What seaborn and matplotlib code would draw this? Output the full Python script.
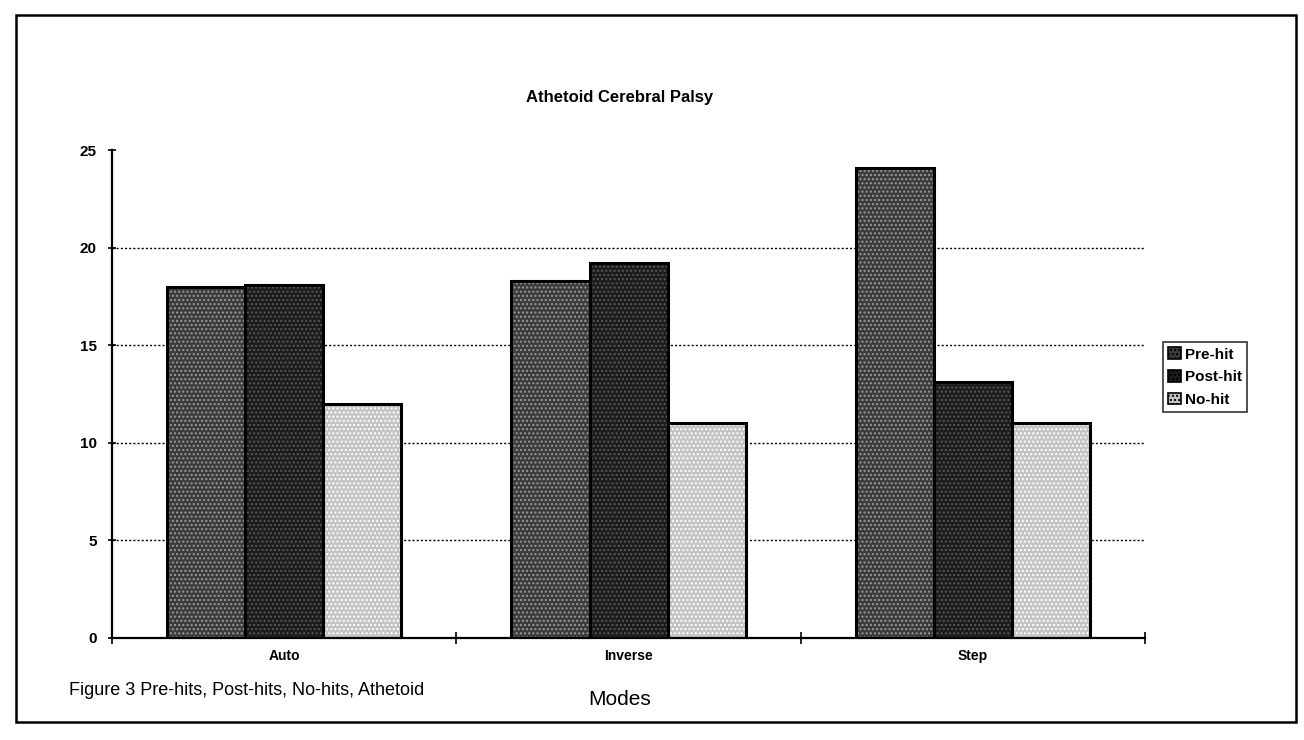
import matplotlib
matplotlib.use("Agg")
import matplotlib.pyplot as plt
from matplotlib.patches import Rectangle, Patch
import seaborn as sns
import pandas as pd

modes = ["Auto", "Inverse", "Step"]
series = ["Pre-hit", "Post-hit", "No-hit"]
pre_hit = [18.0, 18.3, 24.1]
post_hit = [18.1, 19.2, 13.1]
no_hit = [12.0, 11.0, 11.0]
y_ticks = [0, 5, 10, 15, 20, 25]

sns.set_style("white")
plt.rcParams["font.family"] = ["Liberation Sans", "DejaVu Sans"]
plt.rcParams["text.color"] = "black"
plt.rcParams["xtick.color"] = "black"
plt.rcParams["ytick.color"] = "black"

rows = []
for name, vals in zip(series, [pre_hit, post_hit, no_hit]):
    for m, v in zip(modes, vals):
        rows.append({"Mode": m, "Series": name, "Value": v})
df = pd.DataFrame(rows)

face = {"Pre-hit": "#3c3c3c", "Post-hit": "#1c1c1c", "No-hit": "#c4c4c4"}
hatchc = {"Pre-hit": "#9a9a9a", "Post-hit": "#585858", "No-hit": "#ffffff"}

fig = plt.figure(figsize=(13.04, 7.4), dpi=100)
ax = fig.add_axes([0.086, 0.138, 0.792, 0.659])

sns.barplot(data=df, x="Mode", y="Value", hue="Series", order=modes,
            hue_order=series, palette=face, width=0.68, ax=ax,
            saturation=1, legend=False, errorbar=None)

for container, name in zip(ax.containers, series):
    for p in container:
        p.set_hatch("....")
        p.set_edgecolor(hatchc[name])
        p.set_linewidth(0)
        ax.add_patch(Rectangle((p.get_x(), p.get_y()), p.get_width(), p.get_height(),
                               fill=False, edgecolor="black", linewidth=2.2, zorder=3))

ax.set_ylim(0, 25)
ax.set_xlim(-0.5, 2.5)
ax.set_yticks(y_ticks)
ax.set_yticklabels([str(t) for t in y_ticks], fontsize=11, fontweight="bold")
ax.set_xticks(range(len(modes)))
ax.set_xticklabels(modes, fontsize=10, fontweight="bold")
ax.tick_params(axis="x", which="major", length=0, pad=8)
ax.set_xticks([-0.5, 0.5, 1.5, 2.5], minor=True)
ax.tick_params(axis="x", which="minor", bottom=True, length=8, direction="inout",
               width=1.2, color="black")
ax.tick_params(axis="y", length=6, direction="inout", width=1.2, color="black", left=True, pad=8)

for t in [5, 10, 15, 20]:
    ax.axhline(t, color="black", linestyle=(0, (1.5, 1.5)), linewidth=1.0, zorder=0.5)

for s in ["top", "right"]:
    ax.spines[s].set_visible(False)
for s in ["left", "bottom"]:
    ax.spines[s].set_color("black")
    ax.spines[s].set_linewidth(1.6)

ax.set_xlabel("")
ax.set_ylabel("")

fig.text(0.475, 0.868, "Athetoid Cerebral Palsy", ha="center", va="center",
         fontsize=12, fontweight="bold")
fig.text(0.053, 0.067, "Figure 3 Pre-hits, Post-hits, No-hits, Athetoid", ha="left",
         va="center", fontsize=13)
fig.text(0.475, 0.055, "Modes", ha="center", va="center", fontsize=15)

handles = [Patch(facecolor=face[n], edgecolor="black", hatch="....", linewidth=1.2) for n in series]
leg = fig.legend(handles, series, loc="upper left", bbox_to_anchor=(0.886, 0.548),
                 frameon=True, fancybox=False, handlelength=0.8,
                 handleheight=0.8, handletextpad=0.3, borderpad=0.35, labelspacing=0.55,
                 prop={"weight": "bold", "size": 11})
leg.get_frame().set_edgecolor("black")
leg.get_frame().set_linewidth(1.2)

fig.patches.append(Rectangle((0.012, 0.025), 0.982, 0.955, transform=fig.transFigure,
                             fill=False, edgecolor="black", linewidth=1.8))

fig.savefig("out.png", dpi=100, facecolor="white")
